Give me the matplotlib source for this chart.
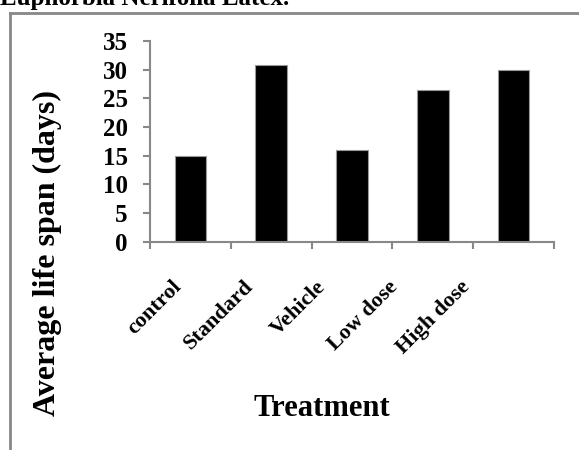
import matplotlib
matplotlib.use("Agg")
import matplotlib.pyplot as plt
from matplotlib.lines import Line2D

# treatment groups and mean life span
groups = ["control", "Standard", "Vehicle", "Low dose", "High dose"]
life_span = [15.0, 30.8, 16.0, 26.5, 30.0]
y_ticks = [0, 5, 10, 15, 20, 25, 30, 35]

plt.rcParams["font.family"] = ["Liberation Serif", "DejaVu Serif"]
plt.rcParams["font.weight"] = "bold"

W, H = 579, 450
fig = plt.figure(figsize=(W / 100, H / 100), dpi=100)
ax = fig.add_axes([150 / W, 1 - 241.7 / H, 404 / W, 200.7 / H])

x = list(range(len(groups)))
ax.bar(x, life_span, width=0.39, color="black", edgecolor="#999999", linewidth=0.8)

ax.set_xlim(-0.5, len(groups) - 0.5)
ax.set_ylim(0, 35)
ax.set_yticks(y_ticks)
ax.set_yticklabels([str(v) for v in y_ticks], fontsize=18, fontweight="bold")

# tick marks sit on the category boundaries
ax.set_xticks([i - 0.5 for i in range(len(groups) + 1)])
ax.set_xticklabels([])
ax.tick_params(axis="x", direction="out", length=5, width=1.5, color="#888888")
ax.tick_params(axis="y", direction="out", length=5, width=1.5, color="#888888", pad=11)

for side in ("top", "right"):
    ax.spines[side].set_visible(False)
for side in ("left", "bottom"):
    ax.spines[side].set_color("#888888")
    ax.spines[side].set_linewidth(1.5)

# slanted category names under the axis
for i, name in enumerate(groups):
    ax.annotate(name, xy=(i, 0), xycoords=("data", "axes fraction"),
                xytext=(-19 - 8.75 * i, -35), textcoords="offset pixels",
                rotation=45, rotation_mode="anchor", ha="right", va="top",
                fontsize=16, fontweight="bold")

ax.set_ylabel("Average life span (days)", fontsize=23, fontweight="bold", va="center")
ax.yaxis.set_label_coords(-0.255, -0.055)
ax.set_xlabel("Treatment", fontsize=22, fontweight="bold", va="center")
ax.xaxis.set_label_coords(0.425, -0.83)

# outer frame of the figure
fig.add_artist(Line2D([10 / W, 1], [1 - 13 / H, 1 - 13 / H], color="#888888", lw=2))
fig.add_artist(Line2D([10 / W, 10 / W], [0, 1 - 13 / H], color="#888888", lw=2))

fig.text(0, 1 - 5 / H, "Euphorbia Nerifolia Latex.", fontsize=18, fontweight="bold",
         ha="left", va="baseline")

fig.savefig("out.png", dpi=100)
